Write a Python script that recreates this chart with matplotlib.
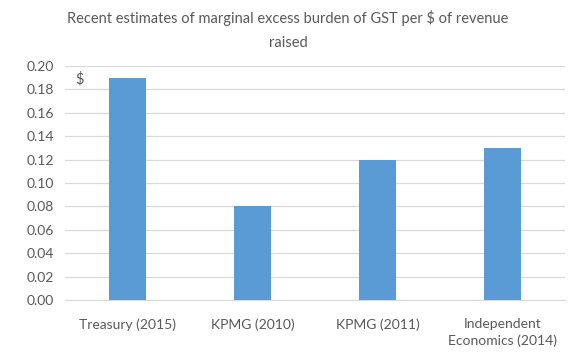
import matplotlib
matplotlib.use("Agg")
import matplotlib.pyplot as plt
import numpy as np

# data
categories = ["Treasury (2015)", "KPMG (2010)", "KPMG (2011)", "Independent\nEconomics (2014)"]
values = [0.19, 0.08, 0.12, 0.13]
yticks = [0.00, 0.02, 0.04, 0.06, 0.08, 0.10, 0.12, 0.14, 0.16, 0.18, 0.20]

plt.rcParams['font.family'] = ['Lato', 'DejaVu Sans']
txt = "#595959"

fig = plt.figure(figsize=(5.76, 3.55), dpi=100)
ax = fig.add_axes([0.113, 0.155, 0.868, 0.659])

x = np.arange(len(categories))
ax.bar(x, values, width=0.3, color="#5B9BD5", zorder=3)

ax.set_xlim(-0.5, len(categories) - 0.5)
ax.set_ylim(0, 0.2)
ax.set_yticks(yticks)
ax.set_yticklabels(["%.2f" % v for v in yticks], color=txt, fontsize=10)
ax.set_xticks(x)
ax.set_xticklabels(categories, color=txt, fontsize=10, linespacing=1.45)
ax.tick_params(axis="y", length=0, pad=8)
ax.tick_params(axis="x", length=0, pad=13)
ax.grid(axis="y", color="#D9D9D9", linewidth=0.9, zorder=0)
for s in ["top", "right", "left"]:
    ax.spines[s].set_visible(False)
ax.spines["bottom"].set_color("#D9D9D9")

ax.text(0.02, 0.975, "$", transform=ax.transAxes, color=txt, fontsize=10.5, va="top")

fig.text(0.5, 0.915, "Recent estimates of marginal excess burden of GST per $ of revenue\nraised",
         ha="center", va="center", color=txt, fontsize=10.5, linespacing=1.85)

fig.savefig("out.png", dpi=100)
